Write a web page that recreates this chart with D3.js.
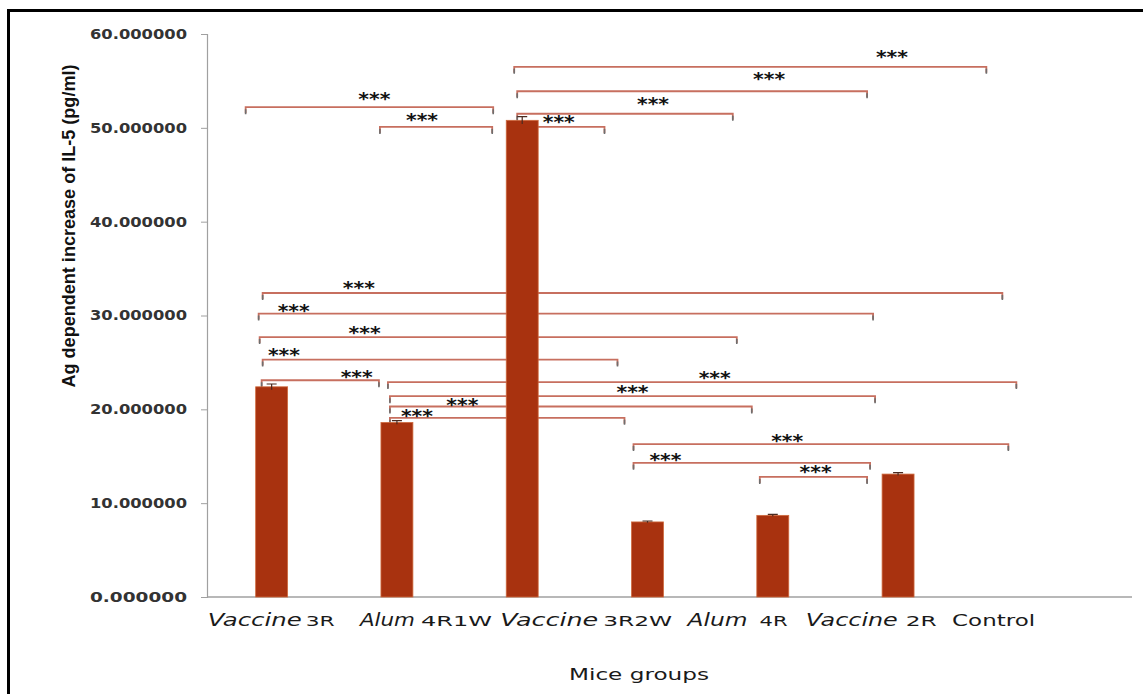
<!DOCTYPE html>
<html>
<head>
<meta charset="utf-8">
<script src="https://cdn.jsdelivr.net/npm/d3@7"></script>
<style>
  html, body { margin: 0; padding: 0; background: #ffffff; }
  svg { display: block; }
</style>
</head>
<body>
<svg id="chart" width="1143" height="694"></svg>
<script>
// ---- data ----------------------------------------------------------------
// Seven group slots on the x axis; the last slot carries no bar.
const groupLabels = ["Vaccine 3R", "Alum 4R1W", "Vaccine 3R2W", "Alum 4R", "Vaccine 2R", "Control"];
const values = [22.4, 18.6, 50.8, 8.0, 8.7, 13.1, 0];
const errors = [0.3, 0.2, 0.4, 0.1, 0.1, 0.15, 0];
const yTicks = [0, 10, 20, 30, 40, 50, 60];
// Pairwise comparisons: [from slot, to slot, bracket level in pg/ml]
const comparisons = [
  [2, 6, 56.5], [2, 5, 53.9], [2, 4, 51.5], [2, 3, 50.1],
  [0, 2, 52.2], [1, 2, 50.1],
  [0, 6, 32.4], [0, 5, 30.2], [0, 4, 27.7], [0, 3, 25.3], [0, 1, 23.1],
  [1, 6, 22.9], [1, 5, 21.4], [1, 4, 20.3], [1, 3, 19.1],
  [3, 6, 16.3], [3, 5, 14.3], [4, 5, 12.8]
];
const significance = "***";

// ---- layout --------------------------------------------------------------
// Bracket end nudges (px from slot centre), star position along the bracket
// and how far the stars sit above the bracket line.
const bracketLayout = [
  [-8, -37, 0.80, 12], [-5, -31, 0.72, 14], [-5, -40, 0.63, 12], [-4, -43, 0.47, 7],
  [-26, -29, 0.52, 10], [-17, -30, 0.375, 9],
  [-9, -21, 0.13, 7], [-13, -25, 0.057, 5], [-12, -36, 0.22, 6], [-9, -30, 0.06, 7], [-10, -18, 0.81, 5],
  [-9, -7, 0.52, 6], [-7, -23, 0.50, 6], [-7, -21, 0.20, 4], [-7, -23, 0.115, 4],
  [-14, -15, 0.41, 5], [-14, -28, 0.135, 5], [-13, -31, 0.52, 7]
];
// Group label placement: [start offset from slot centre, italic width, gap, suffix width]
const labelLayout = [
  [-64, 94, 4, 29], [-37, 55, 6, 71], [-22, 98, 5, 69],
  [40, 60, 12, 28], [33, 92, 8, 31], [54, 0, 0, 83]
];

const axisX = 207, axisTop = 34, axisBottom = 597, axisRight = 1132;

const svg = d3.select("#chart");

// frame
svg.append("rect")
  .attr("x", 8.5).attr("y", 10.5)
  .attr("width", 1200).attr("height", 800)
  .attr("fill", "#ffffff")
  .attr("stroke", "#000000").attr("stroke-width", 3);

const x = d3.scaleBand()
  .domain(d3.range(values.length))
  .range([209, 1086])
  .paddingInner(0.745)
  .paddingOuter(0.3725);

const y = d3.scaleLinear().domain([0, 60]).range([axisBottom, axisTop]);

const centre = i => x(i) + x.bandwidth() / 2;

// y axis
const yAxis = svg.append("g")
  .attr("transform", `translate(${axisX},0)`)
  .call(d3.axisLeft(y).tickValues(yTicks).tickFormat(d3.format(".6f")).tickSize(6).tickPadding(14));
yAxis.select(".domain").attr("stroke", "#a0a0a0").attr("stroke-width", 1.2);
yAxis.selectAll(".tick line").attr("stroke", "#a0a0a0");
yAxis.selectAll(".tick text")
  .attr("fill", "#333333")
  .style("font-family", "'DejaVu Sans', Verdana, sans-serif")
  .style("font-size", "14px")
  .style("font-weight", "bold")
  .attr("textLength", 97)
  .attr("lengthAdjust", "spacingAndGlyphs");

// x axis line
svg.append("line")
  .attr("x1", axisX).attr("x2", axisRight)
  .attr("y1", y(0)).attr("y2", y(0))
  .attr("stroke", "#a0a0a0").attr("stroke-width", 1.5);

// significance brackets
const bracketG = svg.append("g");
comparisons.forEach((c, k) => {
  const [a, b, level] = c;
  const [dl, dr, t, lift] = bracketLayout[k];
  const x1 = centre(a) + dl, x2 = centre(b) + dr, yy = y(level);
  bracketG.append("path")
    .attr("d", `M${x1},${yy + 6}V${yy}H${x2}V${yy + 6}`)
    .attr("fill", "none")
    .attr("stroke", "#c76f5f").attr("stroke-width", 1.8);
  bracketG.append("path")
    .attr("d", `M${x1},${yy + 2}V${yy + 7}M${x2},${yy + 2}V${yy + 7}`)
    .attr("stroke", "#6e6e6e").attr("stroke-width", 1.6);
  bracketG.append("text")
    .attr("x", x1 + (x2 - x1) * t)
    .attr("y", yy - lift + 8)
    .attr("text-anchor", "middle")
    .attr("fill", "#111")
    .style("font-family", "'DejaVu Sans', sans-serif")
    .style("font-size", "17px")
    .style("font-weight", "bold")
    .attr("textLength", 32)
    .attr("lengthAdjust", "spacingAndGlyphs")
    .text(significance);
});

// bars
svg.append("g").selectAll("rect")
  .data(values.map((v, i) => ({ v, i })).filter(d => d.v > 0))
  .join("rect")
  .attr("x", d => x(d.i))
  .attr("y", d => y(d.v))
  .attr("width", x.bandwidth())
  .attr("height", d => y(0) - y(d.v))
  .attr("fill", "#a8320f")
  .attr("stroke", "#cf6a3e").attr("stroke-width", 0.8);

// error bars
const errG = svg.append("g").attr("stroke", "#4a2a20").attr("stroke-width", 1.2);
values.forEach((v, i) => {
  if (v <= 0) return;
  const cx = centre(i);
  errG.append("path")
    .attr("d", `M${cx},${y(v - errors[i])}V${y(v + errors[i])}M${cx - 5},${y(v + errors[i])}H${cx + 5}`)
    .attr("fill", "none");
});

// group labels under the axis
const labelY = 626;
groupLabels.forEach((label, i) => {
  const [off, wItal, gap, wSuf] = labelLayout[i];
  const parts = label.split(" ");
  const x0 = centre(i) + off;
  if (parts.length > 1) {
    svg.append("text")
      .attr("x", x0).attr("y", labelY)
      .attr("fill", "#1a1a1a")
      .style("font-family", "'DejaVu Sans', Verdana, sans-serif")
      .style("font-style", "italic")
      .style("font-size", "18px")
      .attr("textLength", wItal)
      .attr("lengthAdjust", "spacingAndGlyphs")
      .text(parts[0]);
    svg.append("text")
      .attr("x", x0 + wItal + gap).attr("y", labelY)
      .attr("fill", "#1a1a1a")
      .style("font-family", "'DejaVu Sans', Verdana, sans-serif")
      .style("font-size", "14.5px")
      .attr("textLength", wSuf)
      .attr("lengthAdjust", "spacingAndGlyphs")
      .text(parts.slice(1).join(" "));
  } else {
    svg.append("text")
      .attr("x", x0).attr("y", labelY)
      .attr("fill", "#1a1a1a")
      .style("font-family", "'DejaVu Sans', Verdana, sans-serif")
      .style("font-size", "15.5px")
      .attr("textLength", wSuf)
      .attr("lengthAdjust", "spacingAndGlyphs")
      .text(label);
  }
});

// axis titles
svg.append("text")
  .attr("x", 639).attr("y", 680)
  .attr("text-anchor", "middle")
  .attr("fill", "#1a1a1a")
  .style("font-family", "'DejaVu Sans', Verdana, sans-serif")
  .style("font-size", "15px")
  .attr("textLength", 140)
  .attr("lengthAdjust", "spacingAndGlyphs")
  .text("Mice groups");

svg.append("text")
  .attr("transform", "translate(75,226) rotate(-90)")
  .attr("text-anchor", "middle")
  .attr("fill", "#111")
  .style("font-family", "'Liberation Sans Narrow', 'Liberation Sans', Arial, sans-serif")
  .style("font-size", "18px")
  .style("font-weight", "bold")
  .attr("textLength", 323)
  .attr("lengthAdjust", "spacingAndGlyphs")
  .text("Ag dependent  increase of  IL-5 (pg/ml)");
</script>
</body>
</html>
